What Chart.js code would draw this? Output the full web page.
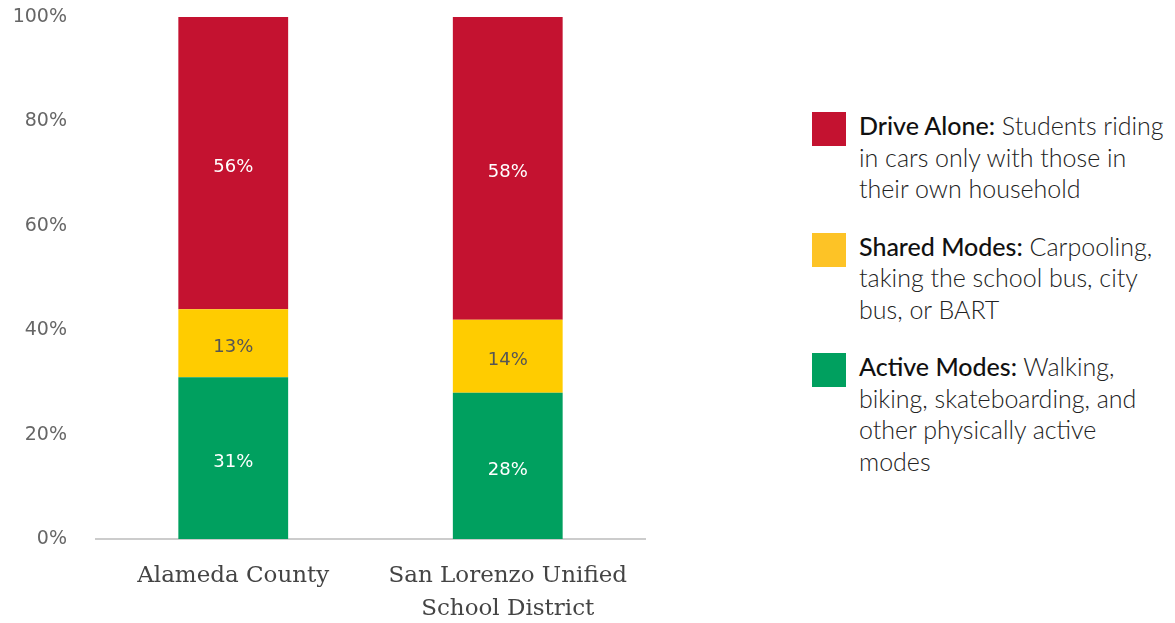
<!DOCTYPE html>
<html>
<head>
<meta charset="utf-8">
<script src="https://cdn.jsdelivr.net/npm/chart.js@4.4.1/dist/chart.umd.min.js"></script>
<style>
  html, body { margin: 0; padding: 0; background: #fff; }
  #wrap { position: relative; width: 1175px; height: 623px; }
  #chartBox { position: absolute; left: 0; top: 0; width: 700px; height: 623px; }
  #legend { position: absolute; left: 812px; top: 110px; font-family: Lato, "Open Sans", sans-serif; font-size: 25px; font-weight: 300; line-height: 31.5px; color: #222; }
  .item { position: relative; padding-left: 47px; margin-bottom: 26px; white-space: nowrap; }
  .sw { position: absolute; left: 0; top: 2px; width: 34px; height: 34px; }
  .item b { font-weight: 500; color: #111; }
</style>
</head>
<body>
<div id="wrap">
  <div id="chartBox"><canvas id="c"></canvas></div>
  <div id="legend"></div>
</div>
<script>
const categories = [["Alameda County"], ["San Lorenzo Unified", "School District"]];
const activeModes = [31, 28];
const sharedModes = [13, 14];
const driveAlone = [56, 58];
const yTicks = [0, 20, 40, 60, 80, 100];
const seriesNames = ["Active Modes", "Shared Modes", "Drive Alone"];
const seriesColors = ["#00A05F", "#FFCC00", "#C41230"];
const labelColors = ["#ffffff", "#555555", "#ffffff"];
const legendOrder = [2, 1, 0];
const legendDescriptions = [
  ["Walking,", "biking, skateboarding, and", "other physically active", "modes"],
  ["Carpooling,", "taking the school bus, city", "bus, or BART"],
  ["Students riding", "in cars only with those in", "their own household"]
];
const legendSwatch = ["#00A05F", "#FDC326", "#C41230"];

// legend
const lg = document.getElementById('legend');
legendOrder.forEach(i => {
  const d = document.createElement('div');
  d.className = 'item';
  const lines = legendDescriptions[i];
  d.innerHTML = '<span class="sw" style="background:' + legendSwatch[i] + '"></span>' +
    '<b>' + seriesNames[i] + ':</b> ' + lines[0] + '<br>' + lines.slice(1).join('<br>');
  lg.appendChild(d);
});

const barLabels = {
  id: 'barLabels',
  afterDatasetsDraw(chart) {
    const ctx = chart.ctx;
    ctx.save();
    ctx.font = '18px "DejaVu Sans"';
    ctx.textAlign = 'center';
    ctx.textBaseline = 'middle';
    chart.data.datasets.forEach((ds, di) => {
      const meta = chart.getDatasetMeta(di);
      meta.data.forEach((bar, i) => {
        const p = bar.getProps(['x', 'y', 'base'], true);
        ctx.fillStyle = labelColors[di];
        ctx.fillText(ds.data[i] + '%', p.x, (p.y + p.base) / 2 + 4);
      });
    });
    ctx.restore();
  }
};

new Chart(document.getElementById('c'), {
  type: 'bar',
  data: {
    labels: categories,
    datasets: [
      { label: seriesNames[0], data: activeModes, backgroundColor: seriesColors[0] },
      { label: seriesNames[1], data: sharedModes, backgroundColor: seriesColors[1] },
      { label: seriesNames[2], data: driveAlone, backgroundColor: seriesColors[2] }
    ]
  },
  options: {
    responsive: true,
    maintainAspectRatio: false,
    animation: false,
    layout: { padding: { top: 17, right: 55, left: 0, bottom: 0 } },
    datasets: { bar: { barPercentage: 0.4, categoryPercentage: 1.0 } },
    plugins: { legend: { display: false }, tooltip: { enabled: false } },
    scales: {
      x: {
        stacked: true,
        grid: { display: false, drawTicks: false },
        border: { display: true, color: '#cccccc', width: 2 },
        ticks: { padding: 20, color: '#444', font: { family: '"DejaVu Serif"', size: 23, lineHeight: 1.45 } },
        afterFit(s) { s.height = 84; }
      },
      y: {
        stacked: true,
        min: 0, max: 100,
        afterBuildTicks(s) { s.ticks = yTicks.map(v => ({ value: v })); },
        grid: { display: false, drawTicks: false },
        border: { display: false },
        ticks: { padding: 29, color: '#666', font: { family: '"DejaVu Sans"', size: 19 }, callback: v => v + '%' },
        afterFit(s) { s.width = 96; s.paddingTop = 0; s.paddingBottom = 0; }
      }
    }
  },
  plugins: [barLabels]
});
</script>
</body>
</html>
